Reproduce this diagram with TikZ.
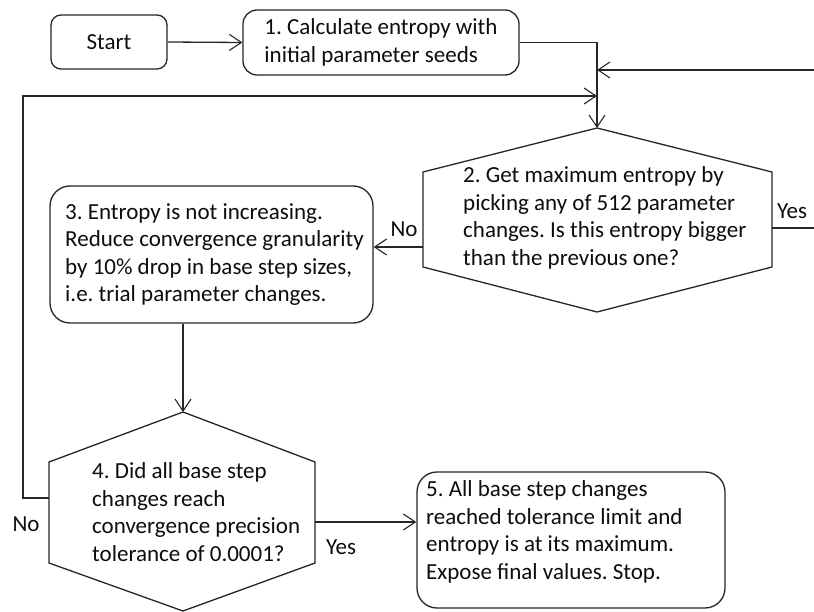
\documentclass[tikz,border=0pt]{standalone}
\usepackage{fontspec}
\setmainfont{Carlito}
\usetikzlibrary{arrows.meta}
\begin{document}
\frenchspacing
\begin{tikzpicture}[x=1pt,y=-1pt,
  every node/.style={font=\fontsize{23}{27.5}\selectfont\frenchspacing, text=black!95},
  shp/.style={draw=black!85, line width=1.3pt},
  boxr/.style={shp, rounded corners=#1, inner sep=0pt},
  txt/.style={inner sep=0pt, align=left, anchor=west},
  lbl/.style={inner sep=0pt},
  conn/.style={draw=black!85, line width=1.3pt},
  arr/.style={conn, -{Straight Barb[length=12pt,width=16pt,line width=1.1pt]}}
]
\useasboundingbox (0,0) rectangle (814,612);
\fill[white] (0,0) rectangle (814,612);

% Start
\node[boxr=10, minimum width=116pt, minimum height=54pt] (st) at (109,42) {Start};
% Box 1
\node[boxr=14, minimum width=276pt, minimum height=65pt, align=left] (b1) at (381,42.5)
  {1. Calculate entropy with\\initial parameter seeds};
% Box 3
\node[boxr=20, minimum width=323pt, minimum height=137pt] (b3) at (211.5,254.5) {};
\node[txt] (t3) at (65,254.5) {3. Entropy is not increasing.\\Reduce convergence granularity\\by 10\% drop in base step sizes,\\i.e. trial parameter changes.};
% Box 5
\node[boxr=20, minimum width=308pt, minimum height=136pt] (b5) at (571,540) {};
\node[txt] (t5) at (426,532) {5. All base step changes\\reached tolerance limit and\\entropy is at its maximum.\\Expose final values. Stop.};

% Hexagon 2
\coordinate (h2t) at (597,128);
\coordinate (h2b) at (597,312);
\coordinate (h2w) at (423,247);
\coordinate (h2e) at (772,228);
\draw[shp] (h2t) -- (772,172) -- (772,267) -- (h2b) -- (423,267) -- (423,172) -- cycle;
\node[txt] (t2) at (463,218) {2. Get maximum entropy by\\picking any of 512 parameter\\changes. Is this entropy bigger\\than the previous one?};

% Hexagon 4
\coordinate (h4t) at (183,412);
\coordinate (h4b) at (183,611);
\coordinate (h4w) at (49,498);
\coordinate (h4e) at (315,522);
\draw[shp] (h4t) -- (315,462) -- (315,563) -- (h4b) -- (49,563) -- (49,462) -- cycle;
\node[txt] (t4) at (92,512) {4. Did all base step\\changes reach\\convergence precision\\tolerance of 0.0001?};

% junction coordinates
\coordinate (mjR) at (597,70);
\coordinate (mjL) at (597,96);
\coordinate (rc) at (822,228);
\coordinate (lc) at (23,96);

% connectors
\draw[arr] (st.east) -- (b1.west);
\draw[arr] (b1.east) -| (h2t);
\draw[arr] (h2e) -- (rc) |- (mjR);
\draw[arr] (h4w) -| (lc) -- (mjL);
\draw[arr] (h2w) -- (h2w -| b3.east);
\draw[arr] (h4t |- b3.south) -- (h4t);
\draw[arr] (h4e) -- (h4e -| b5.west);

% labels
\node[lbl] (no2) at (404,229) {No};
\node[lbl] (yes2) at (792,211) {Yes};
\node[lbl] (no4) at (26,524) {No};
\node[lbl] (yes4) at (341,547) {Yes};
\end{tikzpicture}
\end{document}
